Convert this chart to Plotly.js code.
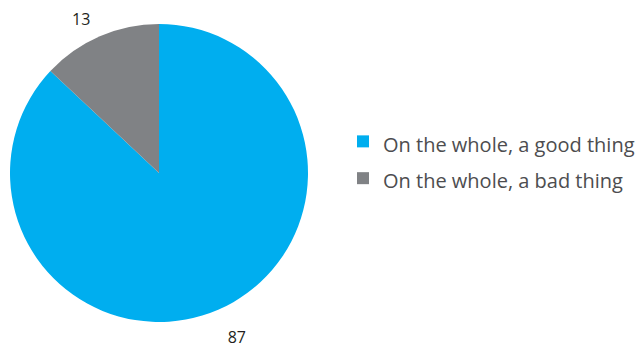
<!DOCTYPE html>
<html>
<head>
<meta charset="utf-8">
<script src="https://cdn.plot.ly/plotly-3.0.1.min.js"></script>
<style>html,body{margin:0;padding:0;background:#fff;}#chart{width:635px;height:347px;}</style>
</head>
<body>
<div id="chart"></div>
<script>
const categories = ["On the whole, a good thing", "On the whole, a bad thing"];
const values = [87, 13];
const colors = ["#00AEEF", "#808285"];

const W = 635, H = 347;
const legendLabels = categories.map(c => '<span style="font-size:20px">' + c + '</span>');
const clear = ["rgba(0,0,0,0)", "rgba(0,0,0,0)"];

// pie slices
const pieTrace = {
  type: "pie",
  labels: legendLabels,
  values: values,
  sort: false,
  direction: "clockwise",
  rotation: 0,
  marker: {colors: colors, line: {width: 0}},
  textinfo: "none",
  hoverinfo: "none",
  domain: {x: [10/W, 308/W], y: [25/H, 323/H]},
  automargin: false
};

// transparent copies carrying the outside value labels
function labelTrace(positions, domainY) {
  return {
    type: "pie",
    labels: legendLabels,
    values: values,
    sort: false,
    direction: "clockwise",
    rotation: 0,
    showlegend: false,
    marker: {colors: clear, line: {width: 0}},
    textinfo: "value",
    textposition: positions,
    textfont: {family: "Open Sans, sans-serif", size: 16, color: "#231F20"},
    hoverinfo: "none",
    domain: {x: [0, 318/W], y: domainY},
    automargin: false
  };
}

const topLabel = labelTrace(["none", "outside"], [14/H, 332/H]);
const bottomLabel = labelTrace(["outside", "none"], [6/H, 324/H]);

const layout = {
  width: W,
  height: H,
  margin: {l: 0, r: 0, t: 0, b: 0, autoexpand: false},
  paper_bgcolor: "#ffffff",
  plot_bgcolor: "#ffffff",
  showlegend: true,
  legend: {
    x: 343/W, xanchor: "left",
    y: 0.539, yanchor: "middle",
    font: {family: "Open Sans, sans-serif", size: 26, color: "#4D4D4F"},
    itemsizing: "constant"
  }
};

Plotly.newPlot("chart", [pieTrace, topLabel, bottomLabel], layout, {displayModeBar: false, staticPlot: true});
</script>
</body>
</html>
